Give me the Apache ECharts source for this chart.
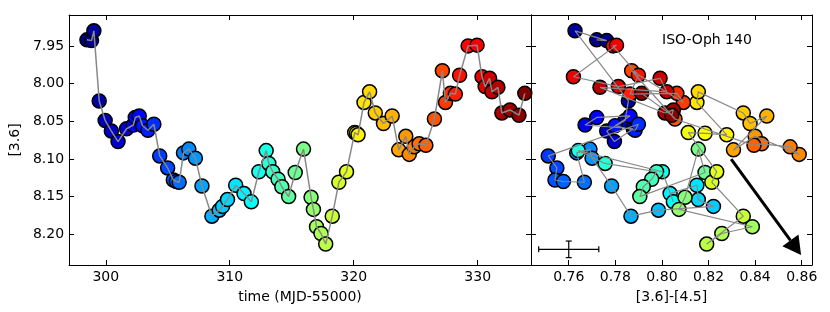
<!DOCTYPE html>
<html><head><meta charset="utf-8">
<script src="https://cdn.jsdelivr.net/npm/echarts@6/dist/echarts.min.js"></script>
<style>html,body{margin:0;padding:0;background:#fff}#c{width:830px;height:312px}</style>
</head><body><div id="c"></div>
<script>
// time (MJD-55000)
const time = [298.48,298.85,299.04,299.47,299.95,300.45,300.99,301.68,302.22,302.38,302.70,302.97,303.40,303.88,304.35,304.99,305.45,305.70,305.92,306.27,306.70,307.23,307.76,308.56,309.15,309.42,309.82,310.48,311.15,311.74,312.35,312.94,313.15,313.47,313.90,314.20,314.75,315.28,315.95,316.56,316.75,317.00,317.36,317.74,318.27,318.80,319.42,320.08,320.22,320.35,320.83,321.28,321.74,322.40,323.10,323.63,324.20,324.48,324.88,325.28,325.82,326.51,327.15,327.40,327.80,328.20,328.54,329.23,329.95,330.35,330.60,330.96,331.15,331.63,331.95,332.60,333.33,333.80];
// [3.6] magnitude
const mag = [7.942,7.943,7.930,8.023,8.049,8.063,8.077,8.060,8.055,8.045,8.043,8.056,8.062,8.054,8.096,8.112,8.128,8.130,8.131,8.092,8.087,8.099,8.136,8.176,8.168,8.163,8.154,8.135,8.146,8.157,8.117,8.089,8.106,8.117,8.127,8.137,8.150,8.118,8.087,8.151,8.167,8.190,8.199,8.213,8.176,8.131,8.117,8.065,8.066,8.068,8.025,8.011,8.039,8.053,8.043,8.088,8.070,8.094,8.084,8.080,8.082,8.047,7.983,8.025,8.013,8.014,7.989,7.950,7.949,7.991,8.004,7.993,8.011,8.005,8.039,8.035,8.042,8.013];
// [3.6]-[4.5] colour
const colour = [0.7720,0.7763,0.7627,0.7856,0.7842,0.7763,0.7796,0.7877,0.7670,0.7720,0.7863,0.7799,0.7885,0.7899,0.7512,0.7549,0.7541,0.7577,0.7667,0.7634,0.7691,0.7700,0.7784,0.7867,0.7985,0.8221,0.8156,0.8150,0.8035,0.8049,0.8002,0.7641,0.7756,0.7977,0.7956,0.7920,0.7905,0.8185,0.8156,0.8099,0.8073,0.8388,0.8257,0.8192,0.8349,0.8214,0.8235,0.8113,0.8185,0.8278,0.8150,0.8156,0.8349,0.8378,0.8450,0.8307,0.8400,0.8589,0.8550,0.8428,0.8395,0.8056,0.7870,0.8092,0.8064,0.7863,0.7899,0.7790,0.7805,0.7620,0.7813,0.7992,0.8021,0.7734,0.8013,0.8049,0.8042,0.7913];
const timeTicks = [300,310,320,330];
const magTicks = [7.95,8.00,8.05,8.10,8.15,8.20];
const colourTicks = [0.76,0.78,0.80,0.82,0.84,0.86];
const errorBar = [0.76, 8.22, 0.0129, 0.011]; // x, y, dx, dy
const arrowFrom = [0.8297, 8.1004];
const arrowTo = [0.8597, 8.2274];
const label = 'ISO-Oph 140';

function clamp(v){return Math.max(0,Math.min(1,v));}
function jet(v){
  const r=clamp(Math.min(4*v-1.5,-4*v+4.5)), g=clamp(Math.min(4*v-0.5,-4*v+3.5)), b=clamp(Math.min(4*v+0.5,-4*v+2.5));
  return 'rgb('+Math.round(r*255)+','+Math.round(g*255)+','+Math.round(b*255)+')';
}
const n = time.length;
const cols = time.map((t,i)=>jet(i/(n-1)));

const FONT = 'DejaVu Sans';
const tickStyle = {inside:true,length:5,lineStyle:{color:'#000',width:1}};
const lineStyle = {show:true,lineStyle:{color:'#000',width:1}};
function axis(grid, pos, min, max, ticks, showLabel, extra, fmt){
  return Object.assign({
    type:'value', gridIndex:grid, position:pos, min:min, max:max,
    axisLine:Object.assign({onZero:false},lineStyle),
    axisTick:Object.assign({customValues:ticks},tickStyle),
    axisLabel:{show:showLabel, customValues:ticks, color:'#000', fontFamily:FONT, fontSize:14, margin:5, formatter:fmt},
    splitLine:{show:false}
  }, extra||{});
}
const f0 = v=>String(Math.round(v));
const f2 = v=>v.toFixed(2);
const ymin=7.909, ymax=8.2408;

const option = {
  animation:false,
  grid:[{left:66,top:15,width:465,height:250},{left:531,top:15,width:281,height:250}],
  xAxis:[
    axis(0,'bottom',297.04,334.3,timeTicks,true,{name:'time (MJD-55000)',nameLocation:'middle',nameGap:25,nameTextStyle:{color:'#000',fontFamily:FONT,fontSize:14}},f0),
    axis(0,'top',297.04,334.3,timeTicks,false),
    axis(1,'bottom',0.7438,0.8644,colourTicks,true,{name:'[3.6]-[4.5]',nameLocation:'middle',nameGap:25,nameTextStyle:{color:'#000',fontFamily:FONT,fontSize:14}},f2),
    axis(1,'top',0.7438,0.8644,colourTicks,false)
  ],
  yAxis:[
    axis(0,'left',ymin,ymax,magTicks,true,{inverse:true,name:'[3.6]',nameLocation:'middle',nameGap:42,nameRotate:90,nameTextStyle:{color:'#000',fontFamily:FONT,fontSize:14}},f2),
    axis(0,'right',ymin,ymax,magTicks,false,{inverse:true}),
    axis(1,'left',ymin,ymax,magTicks,false,{inverse:true}),
    axis(1,'right',ymin,ymax,magTicks,false,{inverse:true})
  ],
  series:[
    {type:'scatter',xAxisIndex:0,yAxisIndex:0,data:time.map((t,i)=>[t,mag[i]]),symbolSize:14,
     itemStyle:{color:p=>cols[p.dataIndex],borderColor:'#000',borderWidth:1.5,opacity:1},z:2},
    {type:'line',xAxisIndex:0,yAxisIndex:0,data:time.map((t,i)=>[t,mag[i]]),symbol:'none',
     lineStyle:{color:'#888',width:1.5},z:3},
    {type:'scatter',xAxisIndex:2,yAxisIndex:2,data:colour.map((c,i)=>[c,mag[i]]),symbolSize:14,
     itemStyle:{color:p=>cols[p.dataIndex],borderColor:'#000',borderWidth:1.5,opacity:1},z:2},
    {type:'line',xAxisIndex:2,yAxisIndex:2,data:colour.map((c,i)=>[c,mag[i]]),symbol:'none',
     lineStyle:{color:'#888',width:1.2},z:3},
    {type:'custom',xAxisIndex:2,yAxisIndex:2,data:[[0]],z:4,
     renderItem:function(params,api){
       const [ex,ey,dx,dy]=errorBar;
       const l=api.coord([ex-dx,ey]), r=api.coord([ex+dx,ey]);
       const t=api.coord([ex,ey-dy]), b=api.coord([ex,ey+dy]);
       const st={stroke:'#000',lineWidth:1.2};
       const a=api.coord(arrowFrom), z=api.coord(arrowTo);
       const ux=z[0]-a[0], uy=z[1]-a[1], L=Math.hypot(ux,uy), nx=ux/L, ny=uy/L;
       const hl=18, hw=10;
       const bx=z[0]-nx*hl, by=z[1]-ny*hl;
       return {type:'group',children:[
         {type:'line',shape:{x1:l[0],y1:l[1],x2:r[0],y2:r[1]},style:st},
         {type:'line',shape:{x1:l[0],y1:l[1]-3,x2:l[0],y2:l[1]+3},style:st},
         {type:'line',shape:{x1:r[0],y1:r[1]-3,x2:r[0],y2:r[1]+3},style:st},
         {type:'line',shape:{x1:t[0],y1:t[1],x2:b[0],y2:b[1]},style:st},
         {type:'line',shape:{x1:t[0]-3,y1:t[1],x2:t[0]+3,y2:t[1]},style:st},
         {type:'line',shape:{x1:b[0]-3,y1:b[1],x2:b[0]+3,y2:b[1]},style:st},
         {type:'line',shape:{x1:a[0],y1:a[1],x2:bx,y2:by},style:{stroke:'#000',lineWidth:3}},
         {type:'polygon',shape:{points:[[z[0],z[1]],[bx-ny*hw,by+nx*hw],[bx+ny*hw,by-nx*hw]]},style:{fill:'#000'}}
       ]};
     }}
  ],
  graphic:[{type:'text',left:662,top:33,style:{text:label,fill:'#000',font:'14px "DejaVu Sans"'}}]
};
const chart = echarts.init(document.getElementById('c'));
chart.setOption(option);
</script></body></html>
